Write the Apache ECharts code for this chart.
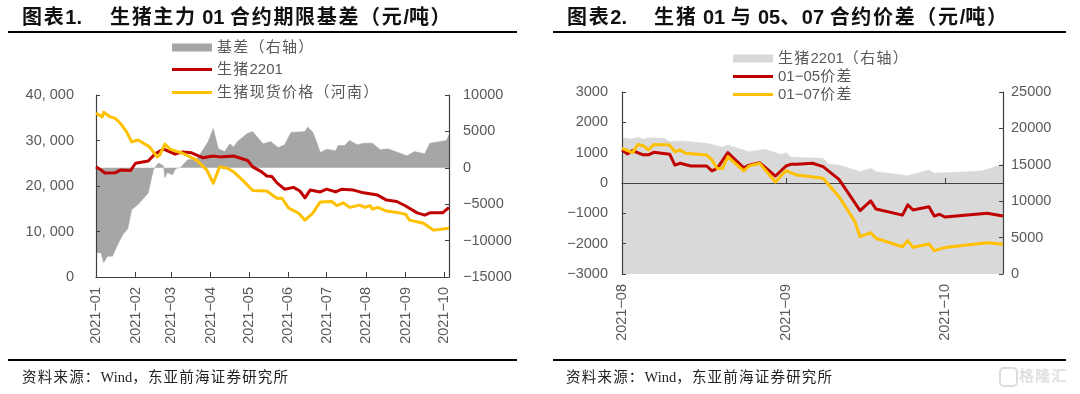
<!DOCTYPE html>
<html>
<head>
<meta charset="utf-8">
<script src="https://cdn.jsdelivr.net/npm/echarts@6/dist/echarts.min.js"></script>
<style>html,body{margin:0;padding:0;background:#fff}#c{width:1080px;height:394px}</style>
</head>
<body>
<div id="c"></div>
<script>
// Day numbers count from 1 Jan 2021 (chart 1) and 1 Aug 2021 (chart 2)
const futuresDays = [0,3,7,15,19,27,31,41,46,53,58,62,68,75,84,92,97,108,119,123,130,134,138,142,148,155,160,164,168,176,181,188,193,202,210,221,228,236,243,252,258,262,272,277];
const futuresVals = [24200,23700,22860,22900,23500,23400,25000,25500,27000,28100,27500,27000,27500,27300,26200,26600,26400,26600,25600,24200,23100,22200,22100,20700,19300,19700,18900,17400,19100,18700,19300,18700,19300,19100,18500,18000,16900,16600,15600,14100,13600,14100,14100,15300];
const spotDays = [0,5,6,11,15,19,24,28,33,42,48,50,54,58,68,79,87,92,97,103,108,115,123,134,142,146,151,159,164,170,176,185,189,194,199,207,211,215,217,221,228,236,243,246,257,265,277];
const spotVals = [36000,35200,36200,35200,34900,33800,31900,29700,30100,28600,26400,26800,29200,28100,27200,25700,23500,20600,24200,23900,23100,21300,19000,18900,17300,17300,15200,14000,12500,14000,16500,16600,15700,16300,15300,15800,15300,15700,14900,15300,14500,14200,13800,12500,11800,10300,10700];
const basisDays = [0,4,6,9,13,17,21,25,28,33,41,45,46,49,53,54,56,60,62,64,66,72,79,84,88,92,96,101,105,108,111,119,123,131,137,143,148,153,164,166,170,173,176,181,188,190,195,199,205,210,217,223,229,235,244,250,258,262,275,277];
const basisVals = [-11650,-11700,-13050,-12150,-12150,-10550,-9200,-8350,-5750,-5050,-3450,-300,0,650,270,-1370,-640,-960,-270,0,0,1100,1190,2470,3600,5400,2600,2230,3290,2840,3600,4750,4970,3290,3600,2780,3150,4860,4970,5600,4930,3600,2100,2560,2330,3050,3050,3740,3150,3380,3380,2470,2600,2230,1640,2230,1920,3380,3740,4520];

const lhDays = [0,2,3,4,5,8,9,11,16,19,20,24,27,30,31,32,35,38,39,41,45,47,48,54,58,59,68,72];
const lhVals = [18730,18550,18780,18500,18730,18640,18180,18270,17960,17400,17720,16800,17130,16420,16670,16030,15980,15900,15070,14980,14060,14520,14060,13510,14290,13840,14150,15110];
const s0105Days = [0,1,2,4,5,6,9,10,11,13,16,17,18,20,23,24,26,29,31,32,33,36,38,40,41,45,47,48,53,54,55,58,59,60,61,69,72];
const s0105Vals = [1090,960,1070,930,930,1010,950,590,650,560,560,400,480,1000,500,590,670,230,560,620,620,650,540,260,120,-910,-590,-860,-1060,-720,-890,-780,-1090,-1030,-1120,-1000,-1090];
const s0107Days = [0,2,3,4,5,6,9,10,11,12,16,17,18,19,20,23,24,26,29,31,33,38,41,44,45,47,48,53,54,55,58,59,61,69,72];
const s0107Vals = [1140,1000,1270,1230,1090,1270,1250,1030,1090,980,920,760,480,480,870,400,560,650,30,410,260,155,-450,-1270,-1770,-1640,-1820,-2100,-1900,-2120,-2010,-2230,-2130,-1970,-2020];

const months1 = [0,1,2,3,4,5,6,7,8,9];   // Jan..Oct 2021
const months2 = [7,8,9];                 // Aug..Oct 2021
const names1 = ['基差（右轴）','生猪2201','生猪现货价格（河南）'];
const names2 = ['生猪2201（右轴）','01−05价差','01−07价差'];

const FONT = '"Liberation Sans", "Noto Sans CJK SC", sans-serif';
const GREY = '#595959', AXIS = '#404040';
const d1 = d => new Date(2021, 0, 1 + d).getTime();
const d2 = d => new Date(2021, 7, 1 + d).getTime();
const zip = (f, xs, ys) => xs.map((x, i) => [f(x), ys[i]]);
const ym = v => { const t = new Date(v); return t.getFullYear() + '−' + String(t.getMonth() + 1).padStart(2, '0'); };
const sp = s => s.replace(/([\u3000-\u9fff\uff00-\uffef])/g, '$1\u200a');

function xAx(grid, min, max, months, opt) {
  const vals = months.map(m => new Date(2021, m, 1).getTime());
  return Object.assign({
    type: 'value', gridIndex: grid, min, max, z: 2, scale: true,
    splitLine: { show: false },
    axisLine: { show: true, onZero: false, lineStyle: { color: AXIS, width: 1.2 } },
    axisTick: { show: true, inside: true, length: 5, customValues: vals, lineStyle: { color: AXIS } },
    axisLabel: { show: true, customValues: vals, rotate: 90, margin: 10, color: GREY, fontSize: 14.5, fontFamily: FONT, formatter: ym, hideOverlap: false }
  }, opt || {});
}
function yAx(grid, pos, min, max, interval, margin, fmt) {
  return {
    type: 'value', gridIndex: grid, position: pos, min, max, interval, z: 2,
    splitLine: { show: false },
    axisLine: { show: true, onZero: false, lineStyle: { color: AXIS, width: 1.2 } },
    axisTick: { show: true, inside: true, length: 4, lineStyle: { color: AXIS } },
    axisLabel: { margin, color: GREY, fontSize: 14.5, fontFamily: FONT, formatter: fmt }
  };
}
const minus = v => String(v).replace('-', '−');
const thousands = v => v === 0 ? '0' : String(v).replace(/(\d+)(\d{3})$/, '$1, $2');

function line(name, x, y, data, color) {
  return { name, type: 'line', xAxisIndex: x, yAxisIndex: y, data, z: 4, showSymbol: false, symbol: 'none', animation: false,
    itemStyle: { color }, lineStyle: { color, width: 3, join: 'round' } };
}
function area(name, x, y, data, color) {
  return { name, type: 'line', xAxisIndex: x, yAxisIndex: y, data, z: 1, showSymbol: false, symbol: 'none', animation: false,
    itemStyle: { color }, lineStyle: { color, width: 0.5 }, areaStyle: { color, opacity: 1 } };
}
function legend(names, left, top, h, gap) {
  return { show: true, orient: 'vertical', left, top, padding: 0, data: names.map(n => ({ name: n, icon: 'rect' })), itemWidth: 40, itemHeight: h, itemGap: gap,
    selectedMode: false, formatter: sp, textStyle: { color: GREY, fontSize: 15, fontFamily: FONT } };
}
function txt(x, y, text, size, weight, color, fam) {
  return { type: 'text', left: x, top: y, z: 10, style: { text: sp(text), fontSize: size, fontWeight: weight, fill: color, fontFamily: fam || FONT } };
}
function rule(x1, x2, y) {
  return { type: 'line', z: 10, shape: { x1, y1: y, x2, y2: y }, style: { stroke: '#000', lineWidth: 2 } };
}
const SERIF = '"Liberation Serif", "Noto Sans CJK SC", serif';

const chart = echarts.init(document.getElementById('c'), null, { renderer: 'canvas' });
chart.setOption({
  animation: false,
  backgroundColor: '#fff',
  grid: [
    { left: 96, top: 95, width: 353, height: 182 },
    { left: 622, top: 92, width: 381, height: 182 }
  ],
  xAxis: [
    xAx(0, d1(0), d1(277), months1),
    xAx(1, d2(0), d2(72), months2, { axisLine: { show: true, onZero: true, onZeroAxisIndex: 2, lineStyle: { color: AXIS, width: 1.2 } }, axisLabel: { show: false } }),
    xAx(1, d2(0), d2(72), months2, { axisLine: { show: false }, axisTick: { show: false }, position: 'bottom' })
  ],
  yAxis: [
    yAx(0, 'left', 0, 40000, 10000, 22, thousands),
    yAx(0, 'right', -15000, 10000, 5000, 14, minus),
    yAx(1, 'left', -3000, 3000, 1000, 14, minus),
    yAx(1, 'right', 0, 25000, 5000, 8, minus)
  ],
  legend: [
    legend([names1[0]], 172, 40, 8, 0),
    legend([names1[1], names1[2]], 172, 62, 3, 8),
    legend([names2[0]], 733, 51, 8, 0),
    legend([names2[1], names2[2]], 733, 69, 3, 3)
  ],
  series: [
    area(names1[0], 0, 1, zip(d1, basisDays, basisVals), '#a6a6a6'),
    line(names1[1], 0, 0, zip(d1, futuresDays, futuresVals), '#c00000'),
    line(names1[2], 0, 0, zip(d1, spotDays, spotVals), '#ffc000'),
    area(names2[0], 1, 3, zip(d2, lhDays, lhVals), '#d9d9d9'),
    line(names2[1], 1, 2, zip(d2, s0105Days, s0105Vals), '#c00000'),
    line(names2[2], 1, 2, zip(d2, s0107Days, s0107Vals), '#ffc000')
  ],
  graphic: [
    rule(8, 517, 32), rule(8, 517, 360), rule(553, 1066, 32), rule(553, 1066, 360),
    txt(22, 8, '图表1.', 20, 'bold', '#111'),
    txt(110, 8, '生猪主力 01 合约期限基差（元/吨）', 20, 'bold', '#111'),
    txt(567, 8, '图表2.', 20, 'bold', '#111'),
    txt(654, 8, '生猪 01 与 05、07 合约价差（元/吨）', 20, 'bold', '#111'),
    txt(22, 371, '资料来源：Wind，东亚前海证券研究所', 14.5, 'normal', '#222', SERIF),
    txt(566, 371, '资料来源：Wind，东亚前海证券研究所', 14.5, 'normal', '#222', SERIF),
    { type: 'rect', z: 10, shape: { x: 1000, y: 368, width: 17, height: 18, r: 4 }, style: { fill: 'none', stroke: '#dcdcdc', lineWidth: 2 } },
    txt(1019, 369, '格隆汇', 15, 'bold', '#e0e0e0')
  ]
});
</script>
</body>
</html>
